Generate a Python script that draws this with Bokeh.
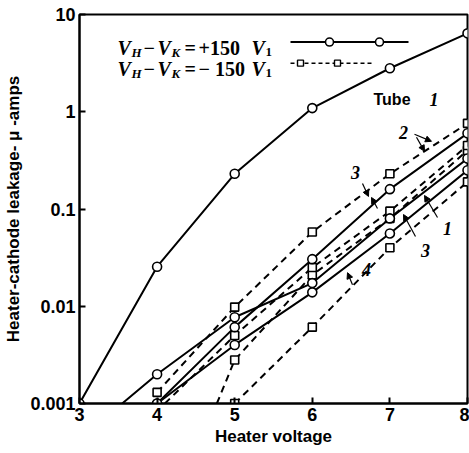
import numpy as np
from bokeh.plotting import figure
from bokeh.models import FixedTicker, CustomJSTickFormatter, Range1d, Arrow, NormalHead
from bokeh.core.properties import value
from bokeh.embed import file_html
from bokeh.resources import INLINE

# ---------------- data ----------------
x_ticks = [3, 4, 5, 6, 7, 8]
y_ticks = [0.001, 0.01, 0.1, 1, 10]

# V_H - V_K = +150 V (solid, circles)
tube1_pos_x = [3, 4, 5, 6, 7, 8]
tube1_pos_y = [0.001, 0.0255, 0.23, 1.09, 2.8, 6.4]
tube2_pos_x = [4, 5, 6, 7, 8]
tube2_pos_y = [0.001, 0.0061, 0.0305, 0.16, 0.6]
tube3_pos_x = [3.55, 4, 5, 6, 7, 8]
tube3_pos_y = [0.001, 0.002, 0.0077, 0.0173, 0.08, 0.33]
tube4_pos_x = [4, 5, 6, 7, 8]
tube4_pos_y = [0.001, 0.004, 0.0139, 0.056, 0.25]

# V_H - V_K = -150 V (dashed, squares)
tube1_neg_x = [4.77, 5, 6, 7, 8]
tube1_neg_y = [0.001, 0.0028, 0.021, 0.08, 0.4]
tube2_neg_x = [4, 5, 6, 7, 8]
tube2_neg_y = [0.0013, 0.0098, 0.058, 0.23, 0.76]
tube3_neg_x = [4.1, 5, 6, 7, 8]
tube3_neg_y = [0.001, 0.005, 0.025, 0.095, 0.45]
tube4_neg_x = [5, 6, 7, 8]
tube4_neg_y = [0.001, 0.0061, 0.04, 0.19]

pos_series = [(tube1_pos_x, tube1_pos_y), (tube2_pos_x, tube2_pos_y),
              (tube3_pos_x, tube3_pos_y), (tube4_pos_x, tube4_pos_y)]
neg_series = [(tube1_neg_x, tube1_neg_y), (tube2_neg_x, tube2_neg_y),
              (tube3_neg_x, tube3_neg_y), (tube4_neg_x, tube4_neg_y)]

# ---------------- helpers for annotation placement (reference pixels -> data) ----
def X(px):
    return 3 + (px - 79) / 77.6

def Y(py):
    return 10 ** (-3 + (402.5 - py) / 97.0)

SANS = "Liberation Sans"
SERIF = "Liberation Serif"

p = figure(width=469, height=453, x_axis_type="linear", y_axis_type="log",
           x_range=Range1d(3, 8), y_range=Range1d(0.001, 10),
           output_backend="svg", toolbar_location=None,
           min_border_left=79, min_border_top=14, min_border_right=2, min_border_bottom=50)

p.xgrid.visible = False
p.ygrid.visible = False
p.outline_line_color = "black"
p.outline_line_width = 2
p.background_fill_color = "white"
p.border_fill_color = "white"

for ax in (p.xaxis[0], p.yaxis[0]):
    ax.axis_line_width = 2
    ax.axis_line_color = "black"
    ax.major_tick_in = 6
    ax.major_tick_out = 0
    ax.major_tick_line_width = 2
    ax.minor_tick_in = 0
    ax.minor_tick_out = 0
    ax.major_label_text_font = SANS
    ax.major_label_text_font_style = "bold"
    ax.major_label_text_font_size = "18px"
    ax.major_label_text_color = "black"
    ax.axis_label_text_font = SANS
    ax.axis_label_text_font_style = "bold"
    ax.axis_label_text_font_size = "17px"
    ax.axis_label_text_color = "black"

p.xaxis.ticker = FixedTicker(ticks=x_ticks)
p.yaxis.ticker = FixedTicker(ticks=y_ticks)
p.yaxis.formatter = CustomJSTickFormatter(code="return String(tick);")
p.xaxis.axis_label = "Heater voltage"
p.yaxis.axis_label = "Heater-cathode leakage- \u03bc -amps"
p.xaxis.major_label_standoff = 4
p.xaxis.axis_label_standoff = 3
p.yaxis.major_label_standoff = 4
p.yaxis.axis_label_standoff = 4

# ---------------- curves ----------------
for xs, ys in pos_series:
    p.line(xs, ys, line_color="black", line_width=2)
for xs, ys in neg_series:
    p.line(xs, ys, line_color="black", line_width=2, line_dash="7 5")

def integer_points(xs, ys):
    px = [a for a, b in zip(xs, ys) if float(a).is_integer()]
    py = [b for a, b in zip(xs, ys) if float(a).is_integer()]
    return px, py

for xs, ys in neg_series:
    mx, my = integer_points(xs, ys)
    p.scatter(mx, my, marker="square", size=8, fill_color="white",
              line_color="black", line_width=1.6)
for xs, ys in pos_series:
    mx, my = integer_points(xs, ys)
    p.scatter(mx, my, marker="circle", size=9, fill_color="white",
              line_color="black", line_width=1.6)

# ---------------- legend (drawn as text + sample lines) ----------------
def txt(px, py, s, font=SERIF, style="bold italic", size="20px", align="left", baseline="alphabetic"):
    p.text(x=[X(px)], y=[Y(py)], text=[s], text_font=value(font), text_font_style=style,
           text_font_size=size, text_align=align, text_baseline=baseline, text_color="black")

for base, sign in ((48, "+150"), (69, "\u2212 150")):
    txt(117, base, "V")
    txt(131, base + 4, "H", size="13px")
    txt(143, base, "\u2212", style="bold")
    txt(157, base, "V")
    txt(171, base + 4, "K", size="13px")
    txt(184, base, "=", style="bold")
    txt(198, base, sign, style="bold")
    txt(251, base, "V")
    txt(265, base + 4, "1", size="13px", style="bold")

p.line([X(290), X(408)], [Y(42), Y(42)], line_color="black", line_width=2)
p.scatter([X(329), X(379)], [Y(42), Y(42)], marker="circle", size=8,
          fill_color="white", line_color="black", line_width=1.6)
p.line([X(290), X(374)], [Y(63), Y(63)], line_color="black", line_width=1.5, line_dash="4 3")
p.scatter([X(300), X(337)], [Y(63), Y(63)], marker="square", size=6,
          fill_color="white", line_color="black", line_width=1.4)

# ---------------- curve labels ----------------
txt(373, 99, "Tube", font=SANS, style="bold", size="16px")
txt(429, 99, "1", size="18px")
txt(403, 132, "2", size="18px", align="center", baseline="middle")
txt(355, 172, "3", size="18px", align="center", baseline="middle")
txt(447, 228, "1", size="18px", align="center", baseline="middle")
txt(425, 250, "3", size="18px", align="center", baseline="middle")
txt(366, 269, "4", size="18px", align="center", baseline="middle")

def arrow(x0, y0, x1, y1):
    p.add_layout(Arrow(end=NormalHead(size=6, fill_color="black", line_color="black"),
                       x_start=X(x0), y_start=Y(y0), x_end=X(x1), y_end=Y(y1),
                       line_color="black", line_width=1.2))

arrow(414, 134, 431, 141)
arrow(416, 137, 424, 151)
arrow(362, 183, 368, 196)
arrow(377, 208, 371, 197)
arrow(437, 217, 424, 195)
arrow(415, 236, 403, 214)
arrow(352, 284, 347, 272)

open("out.html", "w").write(file_html(p, INLINE))
